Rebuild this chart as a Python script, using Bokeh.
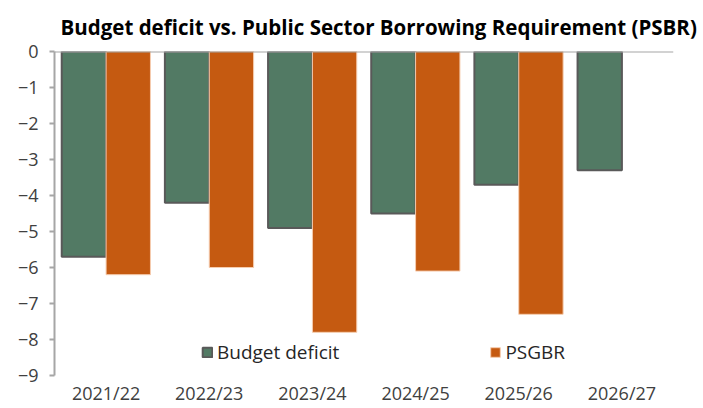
from bokeh.plotting import figure
from bokeh.models import ColumnDataSource, Span, Legend, LegendItem, FactorRange, SingleIntervalTicker
from bokeh.transform import dodge
from bokeh.embed import file_html
from bokeh.resources import INLINE

years = ["2021/22", "2022/23", "2023/24", "2024/25", "2025/26", "2026/27"]
budget_deficit = [-5.7, -4.2, -4.9, -4.5, -3.7, -3.3]
psgbr_years = ["2021/22", "2022/23", "2023/24", "2024/25", "2025/26"]
psgbr = [-6.2, -6.0, -7.8, -6.1, -7.3]

FONT = "Open Sans"
GREEN = "#527A64"
ORANGE = "#C55A11"

src_b = ColumnDataSource(dict(x=years, top=[0] * len(years), bottom=budget_deficit))
src_p = ColumnDataSource(dict(x=psgbr_years, top=[0] * len(psgbr_years), bottom=psgbr))

p = figure(width=703, height=408, x_range=FactorRange(*years, range_padding=0),
           y_range=(-9, 0), output_backend="svg", toolbar_location=None,
           min_border_left=54, min_border_right=30, min_border_top=51, min_border_bottom=33)

rb = p.vbar(x=dodge("x", -0.215, range=p.x_range), top="top", bottom="bottom", width=0.43,
            source=src_b, fill_color=GREEN, line_color="#595959", line_width=2)
rp = p.vbar(x=dodge("x", 0.215, range=p.x_range), top="top", bottom="bottom", width=0.43,
            source=src_p, fill_color=ORANGE, line_color="#F6CDB0", line_width=1)

p.add_layout(Span(location=0, dimension="width", line_color="#A6A6A6", line_width=2))

p.title.text = "Budget deficit vs. Public Sector Borrowing Requirement (PSBR)"
p.title.text_font = FONT
p.title.text_font_size = "20.5px"
p.title.text_font_style = "bold"
p.title.text_color = "#000000"
p.title.text_line_height = 1.0
p.title.offset = 6
p.title.standoff = 21

p.xgrid.visible = False
p.ygrid.visible = False
p.outline_line_color = None
p.background_fill_color = "white"
p.border_fill_color = "white"

p.yaxis.ticker = SingleIntervalTicker(interval=1)
p.yaxis.axis_line_color = "#A6A6A6"
p.yaxis.axis_line_width = 2
p.yaxis.major_tick_line_color = "#A6A6A6"
p.yaxis.major_tick_line_width = 2
p.yaxis.major_tick_out = 5
p.yaxis.major_tick_in = 0
p.yaxis.minor_tick_line_color = None
p.yaxis.major_label_text_font = FONT
p.yaxis.major_label_text_font_size = "18px"
p.yaxis.major_label_text_color = "#404040"
p.yaxis.major_label_standoff = 11

p.xaxis.axis_line_color = None
p.xaxis.major_tick_line_color = None
p.xaxis.major_tick_out = 0
p.xaxis.major_label_text_font = FONT
p.xaxis.major_label_text_font_size = "18px"
p.xaxis.major_label_text_color = "#404040"
p.xaxis.major_label_standoff = 5

legend = Legend(items=[LegendItem(label="Budget deficit", renderers=[rb]),
                       LegendItem(label="PSGBR", renderers=[rp])],
                orientation="horizontal", location=(147, 10),
                glyph_width=12, glyph_height=12, label_standoff=4, spacing=150,
                padding=0, margin=0, border_line_color=None, background_fill_alpha=0,
                label_text_font=FONT, label_text_font_size="19px", label_text_color="#262626",
                label_height=16)
p.add_layout(legend)

open("out.html", "w").write(file_html(p, INLINE))
